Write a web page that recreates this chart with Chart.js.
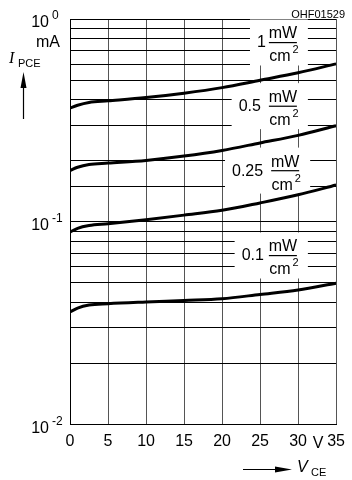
<!DOCTYPE html>
<html>
<head>
<meta charset="utf-8">
<script src="https://cdn.jsdelivr.net/npm/chart.js@4"></script>
<style>
  body { margin: 0; background: #fff; }
  canvas { display: block; }
</style>
</head>
<body>
<canvas id="photoChart" width="352" height="480"></canvas>
<script>
const vce = [0, 1, 2.5, 5, 10, 15, 20, 25, 30, 35];
// I_PCE in mA, one array per irradiance
const ipce1 = [0.364, 0.376, 0.388, 0.395, 0.410, 0.431, 0.459, 0.499, 0.543, 0.601];
const ipce05 = [0.179, 0.186, 0.192, 0.195, 0.201, 0.211, 0.225, 0.245, 0.267, 0.298];
const ipce025 = [0.089, 0.093, 0.096, 0.098, 0.1026, 0.108, 0.114, 0.124, 0.136, 0.152];
const ipce01 = [0.036, 0.0376, 0.0389, 0.0395, 0.0403, 0.041, 0.0418, 0.0439, 0.0462, 0.0499];
const irradiance = ['1', '0.5', '0.25', '0.1'];
const xTicks = [0, 5, 10, 15, 20, 25, 30, 35];
const yDecades = [1, 0.1, 0.01];
const yExponents = ['0', '-1', '-2'];

const narrow = '"Liberation Sans Narrow", "Liberation Sans", Arial, sans-serif';

const toPoints = arr => vce.map((v, i) => ({ x: v, y: arr[i] }));

// where the irradiance labels sit (V_CE, I_PCE of the fraction bar), gap = number to bar
const labelAnchors = [
  { v: 28, i: 0.766, gap: 3 },
  { v: 28, i: 0.372, gap: 8 },
  { v: 28.3, i: 0.179, gap: 8 },
  { v: 28, i: 0.0683, gap: 5 }
];

const labelsPlugin = {
  id: 'curveLabels',
  beforeDatasetsDraw(chart) {
    const { ctx, scales: { x, y } } = chart;
    labelAnchors.forEach((a, k) => {
      const cx = x.getPixelForValue(a.v);
      const by = y.getPixelForValue(a.i);
      ctx.save();
      ctx.font = '16px ' + narrow;
      const numW = ctx.measureText(irradiance[k]).width;
      const cmW = ctx.measureText('cm').width;
      const fracL = cx - 14, fracR = cx + 14;
      const numR = fracL - a.gap;
      const boxL = numR - numW - 7;
      ctx.fillStyle = '#fff';
      ctx.fillRect(boxL, by - 23, fracR + 11 - boxL, 46);
      ctx.fillStyle = '#000';
      ctx.textBaseline = 'alphabetic';
      ctx.textAlign = 'right';
      ctx.fillText(irradiance[k], numR, by + 5);
      ctx.textAlign = 'center';
      ctx.fillText('mW', cx, by - 4);
      ctx.fillText('cm', cx - 3, by + 19);
      ctx.fillRect(fracL, by - 0.5, fracR - fracL, 1.2);
      ctx.font = '11px ' + narrow;
      ctx.textAlign = 'left';
      ctx.fillText('2', cx - 3 + cmW / 2 + 2, by + 11);
      ctx.restore();
    });
  },
  afterDraw(chart) {
    const { ctx, scales: { x, y } } = chart;
    ctx.save();
    ctx.fillStyle = '#000';
    ctx.strokeStyle = '#000';
    // y decade labels 10^n
    yDecades.forEach((d, k) => {
      const py = y.getPixelForValue(d);
      ctx.font = '16px ' + narrow;
      ctx.textAlign = 'right';
      ctx.fillText('10', 49, py + 8);
      ctx.font = '12px ' + narrow;
      ctx.textAlign = 'left';
      ctx.fillText(yExponents[k], 52, py);
    });
    ctx.font = '16px ' + narrow;
    ctx.textAlign = 'left';
    ctx.fillText('mA', 36, 47);
    // I_PCE with up arrow
    ctx.font = 'italic 16px "Liberation Serif", serif';
    ctx.fillText('I', 9, 63);
    ctx.font = '11px ' + narrow;
    ctx.fillText('PCE', 18, 67);
    ctx.lineWidth = 1.2;
    ctx.beginPath();
    ctx.moveTo(23.5, 119);
    ctx.lineTo(23.5, 84);
    ctx.stroke();
    ctx.beginPath();
    ctx.moveTo(23.5, 72);
    ctx.lineTo(20.5, 88);
    ctx.lineTo(26.5, 88);
    ctx.closePath();
    ctx.fill();
    // unit V between 30 and 35
    ctx.font = '16px ' + narrow;
    ctx.textAlign = 'center';
    ctx.fillText('V', (x.getPixelForValue(30) + x.getPixelForValue(35)) / 2 + 1, 448);
    // V_CE with right arrow
    ctx.beginPath();
    ctx.moveTo(243, 469.5);
    ctx.lineTo(280, 469.5);
    ctx.stroke();
    ctx.beginPath();
    ctx.moveTo(292, 469.5);
    ctx.lineTo(275, 466.5);
    ctx.lineTo(275, 472.5);
    ctx.closePath();
    ctx.fill();
    ctx.textAlign = 'left';
    ctx.font = 'italic 16px ' + narrow;
    ctx.fillText('V', 297, 472);
    ctx.font = '11px ' + narrow;
    ctx.fillText('CE', 311, 476);
    // drawing number
    ctx.textAlign = 'right';
    ctx.fillText('OHF01529', 345, 18);
    ctx.restore();
  }
};

const curveStyle = {
  borderColor: '#000',
  borderWidth: 3,
  pointRadius: 0,
  fill: false,
  cubicInterpolationMode: 'monotone'
};

new Chart(document.getElementById('photoChart'), {
  type: 'line',
  data: {
    datasets: [
      { label: irradiance[0], data: toPoints(ipce1), ...curveStyle },
      { label: irradiance[1], data: toPoints(ipce05), ...curveStyle },
      { label: irradiance[2], data: toPoints(ipce025), ...curveStyle },
      { label: irradiance[3], data: toPoints(ipce01), ...curveStyle }
    ]
  },
  options: {
    responsive: false,
    animation: false,
    layout: { padding: { left: 70, right: 9, top: 19, bottom: 22 } },
    plugins: { legend: { display: false }, tooltip: { enabled: false } },
    scales: {
      x: {
        type: 'linear',
        min: 0,
        max: 35,
        afterBuildTicks: s => { s.ticks = xTicks.map(v => ({ value: v })); },
        ticks: {
          color: '#000',
          padding: 7,
          maxRotation: 0,
          font: { family: narrow, size: 16 }
        },
        grid: { color: '#555', lineWidth: 1, drawTicks: false },
        border: { color: '#000', width: 1 }
      },
      y: {
        type: 'logarithmic',
        min: 0.01,
        max: 1,
        ticks: { display: false },
        grid: { color: '#000', lineWidth: 1, drawTicks: false },
        border: { color: '#000', width: 1 }
      }
    }
  },
  plugins: [labelsPlugin]
});
</script>
</body>
</html>
